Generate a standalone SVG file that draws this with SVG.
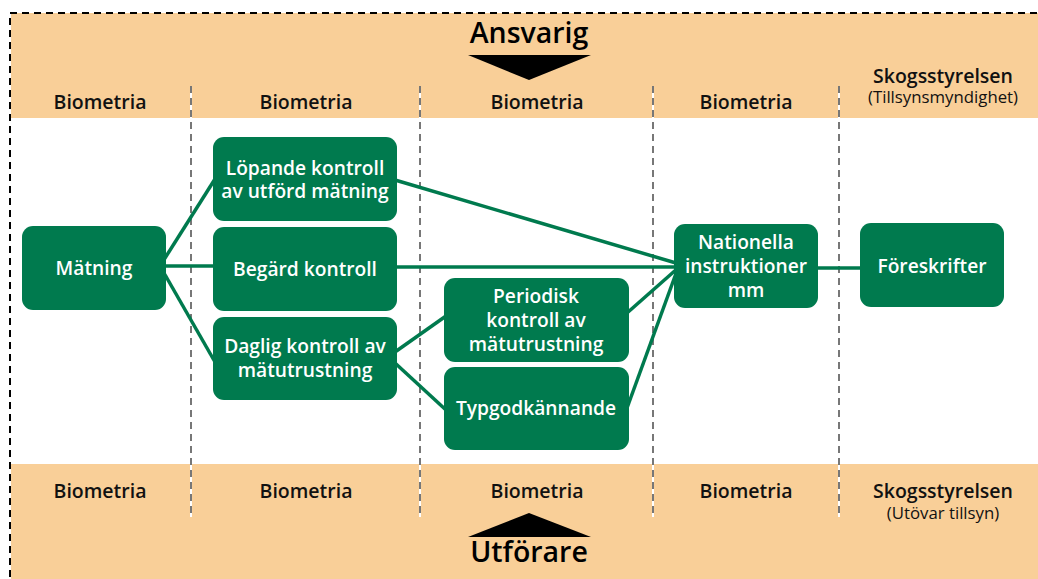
<svg xmlns="http://www.w3.org/2000/svg" width="1038" height="579" viewBox="0 0 1038 579">
<style>
.band{fill:#F9CF98}
.hdr{font-family:"Open Sans","Noto Sans","Liberation Sans",sans-serif;font-weight:600;font-size:19.5px;fill:#111;text-anchor:middle}
.sub{font-family:"Open Sans","Noto Sans","Liberation Sans",sans-serif;font-weight:400;font-size:16.8px;fill:#111;text-anchor:middle}
.big{font-family:"Open Sans","Noto Sans","Liberation Sans",sans-serif;font-weight:600;font-size:28.5px;fill:#000;text-anchor:middle}
.node rect{fill:#007A4E}
.node text{font-family:"Open Sans","Noto Sans","Liberation Sans",sans-serif;font-weight:600;font-size:19.2px;fill:#fff;text-anchor:middle}
.div-bg{stroke:#fff;stroke-width:2}
.div{stroke:#777;stroke-width:2;stroke-dasharray:7 5}
.conn line{stroke:#007A4E;stroke-width:3.5;stroke-linecap:butt}
</style>
<rect x="0" y="0" width="1038" height="579" fill="#fff"/>
<g id="bands">
<rect class="band" x="11" y="13" width="1027" height="105"/>
<rect class="band" x="11" y="464" width="1027" height="115"/>
</g>
<rect id="frame" x="10" y="13" width="1040" height="580" fill="none" stroke="#000" stroke-width="2" stroke-dasharray="7 5"/>
<g id="dividers">
<line class="div-bg" x1="191" y1="86" x2="191" y2="517"/>
<line class="div-bg" x1="420" y1="86" x2="420" y2="517"/>
<line class="div-bg" x1="653" y1="86" x2="653" y2="517"/>
<line class="div-bg" x1="839" y1="86" x2="839" y2="517"/>
<line class="div" x1="191" y1="86" x2="191" y2="517"/>
<line class="div" x1="420" y1="86" x2="420" y2="517"/>
<line class="div" x1="653" y1="86" x2="653" y2="517"/>
<line class="div" x1="839" y1="86" x2="839" y2="517"/>
</g>
<g id="top-header">
<text class="big" x="529" y="43">Ansvarig</text>
<polygon points="468,55 591,55 529,80" fill="#000"/>
<text class="hdr" x="100" y="109">Biometria</text>
<text class="hdr" x="306" y="109">Biometria</text>
<text class="hdr" x="537" y="109">Biometria</text>
<text class="hdr" x="746" y="109">Biometria</text>
<text class="hdr" x="943" y="83">Skogsstyrelsen</text>
<text class="sub" x="943" y="103">(Tillsynsmyndighet)</text>
</g>
<g id="bottom-header">
<text class="hdr" x="100" y="498">Biometria</text>
<text class="hdr" x="306" y="498">Biometria</text>
<text class="hdr" x="537" y="498">Biometria</text>
<text class="hdr" x="746" y="498">Biometria</text>
<text class="hdr" x="943" y="498">Skogsstyrelsen</text>
<text class="sub" x="943" y="519">(Utövar tillsyn)</text>
<polygon points="468,537 591,537 529,513" fill="#000"/>
<text class="big" x="529" y="562">Utförare</text>
</g>
<g id="connectors" class="conn">
<line x1="160" y1="266" x2="215" y2="179"/>
<line x1="160" y1="266" x2="215" y2="266"/>
<line x1="160" y1="266" x2="215" y2="362"/>
<line x1="395" y1="180" x2="676" y2="263"/>
<line x1="395" y1="267" x2="676" y2="267"/>
<line x1="395" y1="352" x2="446" y2="316"/>
<line x1="395" y1="363" x2="446" y2="410"/>
<line x1="627" y1="313" x2="678" y2="268"/>
<line x1="627" y1="408" x2="678" y2="268"/>
<line x1="816" y1="268" x2="862" y2="268"/>
</g>
<g id="n-matning" class="node"><rect x="22" y="226" width="144" height="84" rx="11"/><text x="94" y="275">Mätning</text></g>
<g id="n-lopande" class="node"><rect x="213" y="137" width="184" height="84" rx="11"/><text x="305" y="175">Löpande kontroll</text><text x="305" y="198">av utförd mätning</text></g>
<g id="n-begard" class="node"><rect x="213" y="227" width="184" height="84" rx="11"/><text x="305" y="276">Begärd kontroll</text></g>
<g id="n-daglig" class="node"><rect x="213" y="317" width="184" height="83" rx="11"/><text x="305" y="353">Daglig kontroll av</text><text x="305" y="377">mätutrustning</text></g>
<g id="n-periodisk" class="node"><rect x="444" y="278" width="185" height="84" rx="11"/><text x="536" y="303">Periodisk</text><text x="536" y="327">kontroll av</text><text x="536" y="351">mätutrustning</text></g>
<g id="n-typgod" class="node"><rect x="444" y="367" width="185" height="83" rx="11"/><text x="536" y="415">Typgodkännande</text></g>
<g id="n-nationella" class="node"><rect x="674" y="224" width="144" height="84" rx="11"/><text x="746" y="249">Nationella</text><text x="746" y="273">instruktioner</text><text x="746" y="297">mm</text></g>
<g id="n-foreskrifter" class="node"><rect x="860" y="223" width="144" height="84" rx="11"/><text x="932" y="273">Föreskrifter</text></g>
</svg>
